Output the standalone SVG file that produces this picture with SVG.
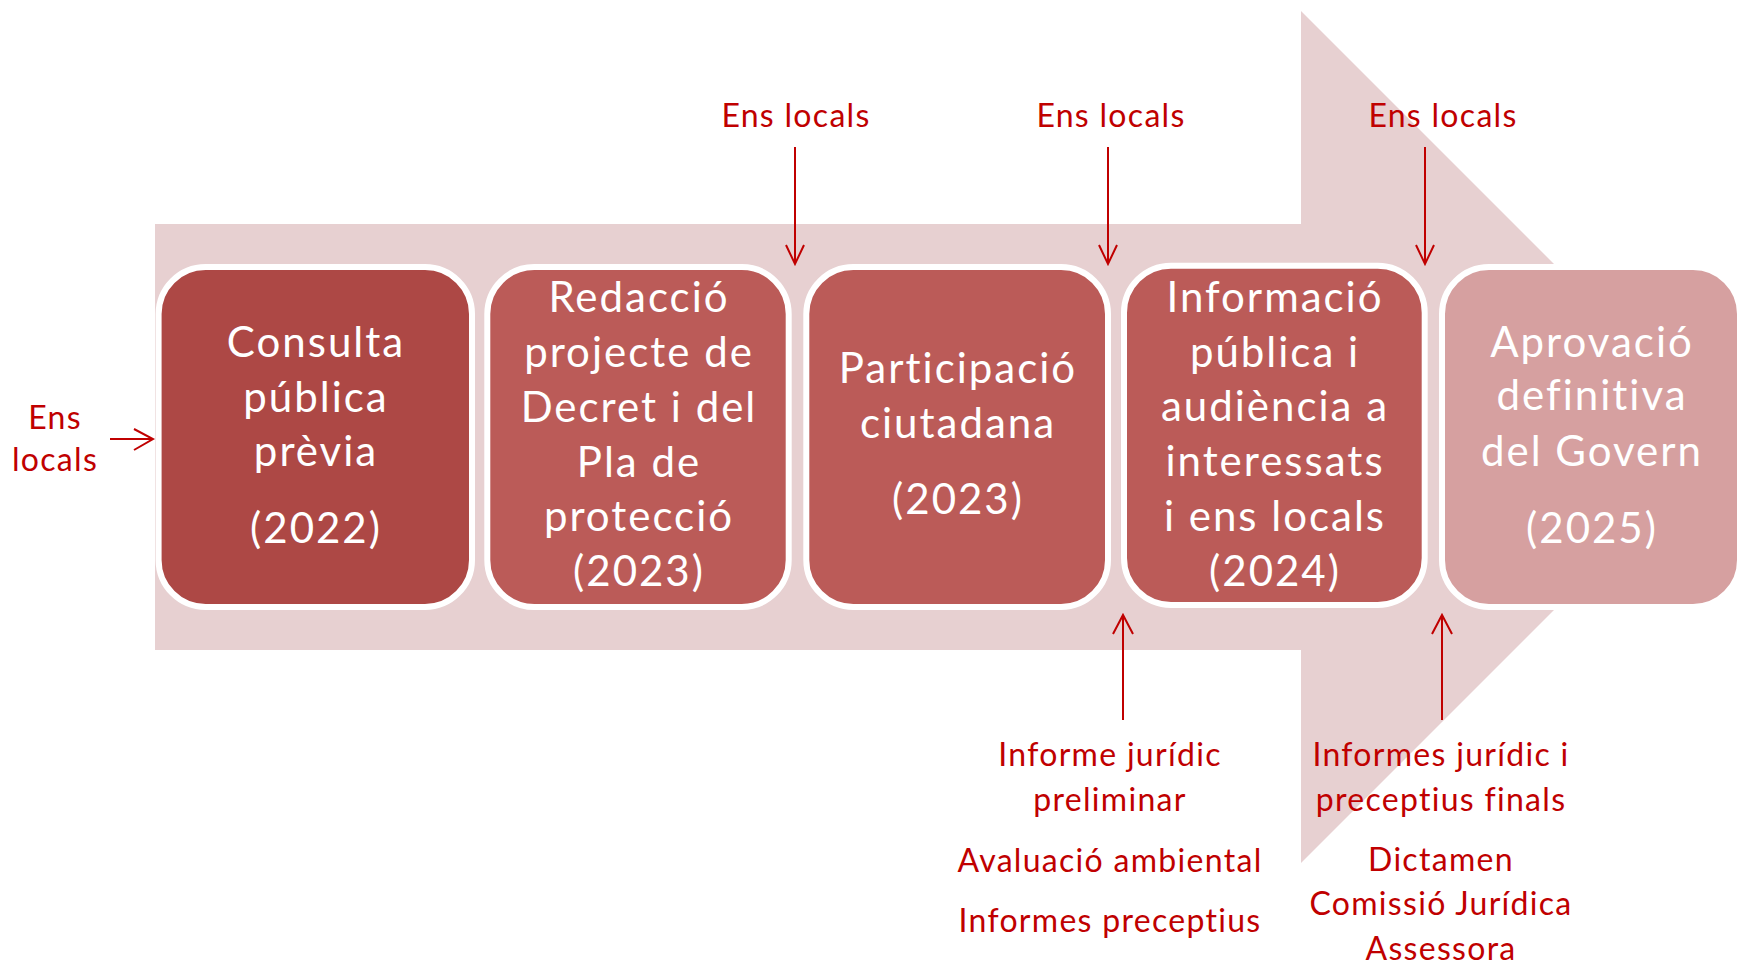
<svg xmlns="http://www.w3.org/2000/svg" width="1739" height="965" viewBox="0 0 1739 965">
  <style>
    .box { stroke: #FFFFFF; stroke-width: 6; }
    .b1 { fill: #AD4845; }
    .b2 { fill: #BB5B58; }
    .b5 { fill: #D6A0A0; }
    .bt { font-family: Lato, "Open Sans", "Liberation Sans", sans-serif; font-size: 42px; letter-spacing: 2px; fill: #FFFFFF; text-anchor: middle; }
    .rt { font-family: Lato, "Open Sans", "Liberation Sans", sans-serif; font-size: 32px; letter-spacing: 1.3px; fill: #C00000; text-anchor: middle; }
    .conn { stroke: #C00000; stroke-width: 2; fill: none; }
  </style>
  <rect width="1739" height="965" fill="#FFFFFF"/>
  <g id="background-arrow">
    <polygon points="155,224 1301,224 1301,11 1727,437 1301,863 1301,650 155,650" fill="#E7D0D1"/>
  </g>

  <g id="node-consulta">
    <rect class="box b1" x="158.6" y="267" width="313.4" height="340" rx="47"/>
    <text class="bt" x="316" y="357">Consulta</text>
    <text class="bt" x="316" y="412">pública</text>
    <text class="bt" x="316" y="466">prèvia</text>
    <text class="bt" x="316" y="543">(2022)</text>
  </g>
  <g id="node-redaccio">
    <rect class="box b2" x="487.3" y="267" width="301.4" height="340" rx="47"/>
    <text class="bt" x="639" y="312">Redacció</text>
    <text class="bt" x="639" y="367">projecte de</text>
    <text class="bt" x="639" y="422">Decret i del</text>
    <text class="bt" x="639" y="477">Pla de</text>
    <text class="bt" x="639" y="531">protecció</text>
    <text class="bt" x="639" y="586">(2023)</text>
  </g>
  <g id="node-participacio">
    <rect class="box b2" x="806.3" y="267" width="301.7" height="340" rx="47"/>
    <text class="bt" x="958" y="383">Participació</text>
    <text class="bt" x="958" y="438">ciutadana</text>
    <text class="bt" x="958" y="514">(2023)</text>
  </g>
  <g id="node-informacio">
    <rect class="box b2" x="1124" y="265.7" width="300.7" height="339.3" rx="47"/>
    <text class="bt" x="1275" y="312">Informació</text>
    <text class="bt" x="1275" y="367">pública i</text>
    <text class="bt" x="1275" y="421">audiència a</text>
    <text class="bt" x="1275" y="476">interessats</text>
    <text class="bt" x="1275" y="531">i ens locals</text>
    <text class="bt" x="1275" y="586">(2024)</text>
  </g>
  <g id="node-aprovacio">
    <rect class="box b5" x="1442" y="267" width="298" height="340" rx="47"/>
    <text class="bt" x="1592" y="357">Aprovació</text>
    <text class="bt" x="1592" y="410">definitiva</text>
    <text class="bt" x="1592" y="466">del Govern</text>
    <text class="bt" x="1592" y="543">(2025)</text>
  </g>

  <g id="label-ens-left">
    <text class="rt" x="55" y="429">Ens</text>
    <text class="rt" x="55" y="471">locals</text>
  </g>
  <g id="label-ens-1"><text class="rt" x="796" y="127">Ens locals</text></g>
  <g id="label-ens-2"><text class="rt" x="1111" y="127">Ens locals</text></g>
  <g id="label-ens-3"><text class="rt" x="1443" y="127">Ens locals</text></g>
  <g id="label-informes-1">
    <text class="rt" x="1110" y="766">Informe jurídic</text>
    <text class="rt" x="1110" y="811">preliminar</text>
    <text class="rt" x="1110" y="872">Avaluació ambiental</text>
    <text class="rt" x="1110" y="932">Informes preceptius</text>
  </g>
  <g id="label-informes-2">
    <text class="rt" x="1441" y="766">Informes jurídic i</text>
    <text class="rt" x="1441" y="811">preceptius finals</text>
    <text class="rt" x="1441" y="871">Dictamen</text>
    <text class="rt" x="1441" y="915">Comissió Jurídica</text>
    <text class="rt" x="1441" y="960">Assessora</text>
  </g>

  <g id="connectors" class="conn">
    <path d="M110,439 H153 M134,429 L153,439 L134,450"/>
    <path d="M795,147 V264 M786,245 L795,264 L804,245"/>
    <path d="M1108,147 V264 M1099,245 L1108,264 L1117,245"/>
    <path d="M1425,147 V264 M1416,245 L1425,264 L1434,245"/>
    <path d="M1123,720 V615 M1113,634 L1123,615 L1133,634"/>
    <path d="M1442,720 V615 M1432,634 L1442,615 L1452,634"/>
  </g>
</svg>
